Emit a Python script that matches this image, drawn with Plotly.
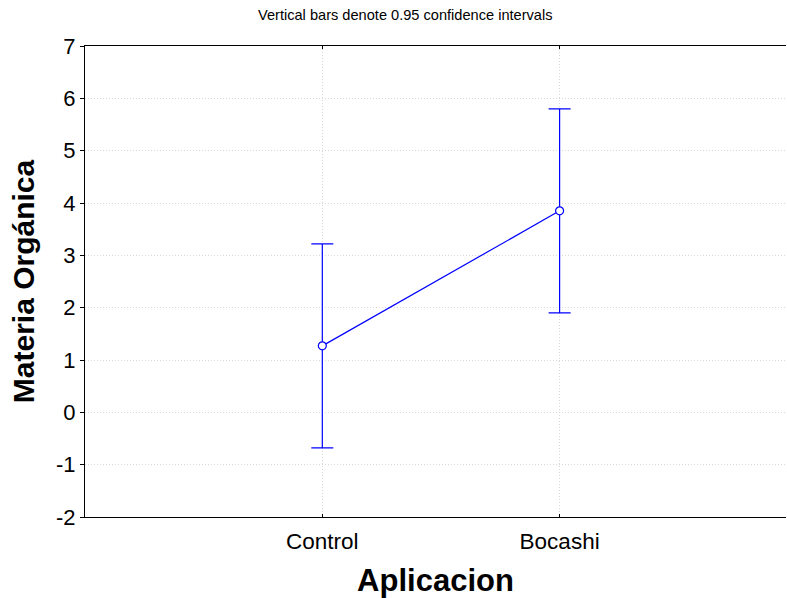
import plotly.graph_objects as go

categories = ["Control", "Bocashi"]
means = [1.27, 3.85]
upper = [3.22, 5.80]
lower = [-0.68, 1.90]
y_ticks = [-2, -1, 0, 1, 2, 3, 4, 5, 6, 7]
y_ticktext = [str(v) for v in y_ticks]

xpos = [1, 2]
err_plus = [u - m for u, m in zip(upper, means)]
err_minus = [m - l for m, l in zip(means, lower)]

blue = "#0000ff"
fig = go.Figure()
fig.add_trace(go.Scatter(
    x=xpos, y=means, mode="lines+markers",
    line=dict(color=blue, width=1.2),
    marker=dict(symbol="circle", size=8, color="white", line=dict(color=blue, width=1.2)),
    error_y=dict(type="data", symmetric=False, array=err_plus, arrayminus=err_minus,
                 color=blue, thickness=1.2, width=11),
    showlegend=False,
))

fig.update_layout(
    width=787, height=598,
    margin=dict(l=85, r=1, t=46, b=81),
    paper_bgcolor="white", plot_bgcolor="white",
    font=dict(family="Liberation Sans, Arial, sans-serif", color="black"),
    annotations=[dict(text="Vertical bars denote 0.95 confidence intervals",
                      x=0.4565, y=1, xref="paper", yref="paper", xanchor="center",
                      yanchor="bottom", yshift=21, showarrow=False,
                      font=dict(size=14.6, color="black"))],
)
fig.update_xaxes(
    range=[0, 2.954], tickvals=xpos, ticktext=categories,
    showline=True, linecolor="black", linewidth=1.2, mirror="ticks",
    ticks="inside", ticklen=3, tickcolor="black",
    showgrid=True, gridcolor="#d8d8d8", griddash="1px,2px", gridwidth=1,
    zeroline=False, tickfont=dict(size=22.5), ticklabelstandoff=4,
    title=dict(text="<b>Aplicacion</b>", font=dict(size=31), standoff=18),
)
fig.update_yaxes(
    range=[-2, 7], tickvals=y_ticks, ticktext=y_ticktext,
    showline=True, linecolor="black", linewidth=1.2,
    ticks="outside", ticklen=4, tickcolor="black",
    showgrid=True, gridcolor="#d8d8d8", griddash="1px,2px", gridwidth=1,
    zeroline=False, tickfont=dict(size=22),
    title=dict(text="<b>Materia Orgánica</b>", font=dict(size=30), standoff=12),
)
fig.write_html("out.html")
